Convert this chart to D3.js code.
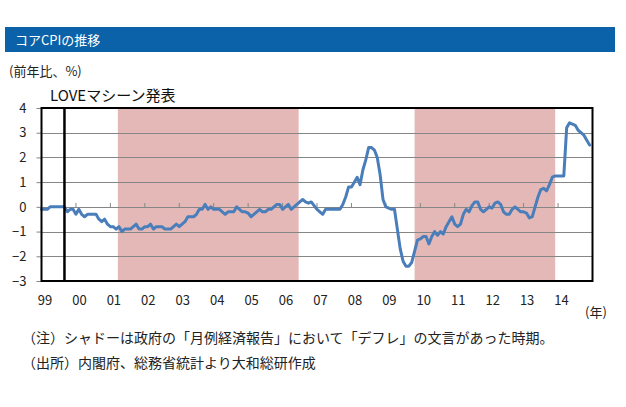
<!DOCTYPE html>
<html><head><meta charset="utf-8">
<script src="https://cdn.jsdelivr.net/npm/d3@7"></script>
<style>
body{margin:0;background:#fff}
text{font-family:"Noto Sans CJK JP","Noto Sans",sans-serif}
</style>
</head><body>
<svg id="chart" width="626" height="407"></svg>
<script>
// ---- data ----
const startYear = 1999;
const coreCPI = [
  // 1999
  -0.1,-0.1,-0.1,0,0,0,0,0,0,-0.2,-0.1,-0.1,
  // 2000
  -0.3,-0.1,-0.3,-0.4,-0.3,-0.3,-0.3,-0.3,-0.5,-0.6,-0.5,-0.7,
  // 2001
  -0.8,-0.8,-0.9,-0.8,-1.0,-0.9,-0.9,-0.9,-0.8,-0.7,-0.9,-0.9,
  // 2002
  -0.8,-0.8,-0.7,-0.9,-0.8,-0.8,-0.8,-0.9,-0.9,-0.9,-0.8,-0.7,
  // 2003
  -0.8,-0.7,-0.6,-0.4,-0.4,-0.4,-0.3,-0.1,-0.1,0.1,-0.1,0,
  // 2004
  -0.1,-0.1,-0.1,-0.2,-0.3,-0.2,-0.2,-0.2,0,-0.1,-0.2,-0.2,
  // 2005
  -0.25,-0.4,-0.3,-0.2,-0.1,-0.2,-0.2,-0.1,-0.1,0,0.1,0.1,
  // 2006
  -0.1,0,0.1,-0.1,0,0.1,0.2,0.3,0.2,0.15,0.2,0.05,
  // 2007
  -0.1,-0.2,-0.3,-0.1,-0.1,-0.1,-0.1,-0.1,-0.1,0.1,0.4,0.8,
  // 2008
  0.8,1.0,1.2,0.9,1.5,1.9,2.4,2.4,2.3,2.0,1.3,0.3,
  // 2009
  0.0,-0.05,-0.1,-0.1,-0.9,-1.7,-2.2,-2.4,-2.4,-2.25,-1.8,-1.35,
  // 2010
  -1.3,-1.2,-1.2,-1.5,-1.2,-1.0,-1.15,-1.0,-1.1,-0.8,-0.6,-0.4,
  // 2011
  -0.7,-0.8,-0.7,-0.3,-0.1,-0.2,0.05,0.2,0.2,-0.1,-0.2,-0.1,
  // 2012
  0,-0.05,0.15,0.2,0.1,-0.2,-0.3,-0.3,-0.1,0,-0.1,-0.2,
  // 2013
  -0.2,-0.25,-0.45,-0.4,0.0,0.4,0.7,0.75,0.65,0.9,1.2,1.25,
  // 2014
  1.25,1.25,1.25,3.2,3.4,3.35,3.3,3.1,3.0,2.9,2.7,2.5
];
const yearLabels = ["99","00","01","02","03","04","05","06","07","08","09","10","11","12","13","14"];
const yTicks = [-3,-2,-1,0,1,2,3,4];
const deflationPeriods = [
  {from:[2001,3], to:[2006,6]},
  {from:[2009,11], to:[2013,12]}
];
const eventDate = [1999,9];
const eventLabel = "LOVEマシーン発表";
const titleText = "コアCPIの推移";
const unitText = "(前年比、%)";
const xUnitText = "(年)";
const notes = [
  "（注）シャドーは政府の「月例経済報告」において「デフレ」の文言があった時期。",
  "（出所）内閣府、総務省統計より大和総研作成"
];

// ---- layout ----
const svg = d3.select("#chart");
const L = 41.5, R = 592.5, T = 108, B = 281;
const mIdx = (y,m) => (y - startYear)*12 + (m - 1);
const x = d3.scaleLinear().domain([0, 192]).range([L, R]);
const y = d3.scaleLinear().domain([-3, 4]).range([B, T]);

// title bar
svg.append("rect").attr("x",5).attr("y",27).attr("width",610).attr("height",25).attr("fill","#0B62A8");
svg.append("text").attr("x",15).attr("y",44.5).attr("fill","#fff").attr("font-size",13).text(titleText);
svg.append("text").attr("x",9).attr("y",76).attr("fill","#222").attr("font-size",13).text(unitText);

// shading (month-midpoint based edges)
svg.append("g").selectAll("rect").data(deflationPeriods).join("rect")
  .attr("x", (d,i) => x(mIdx(...d.from) + (i === 0 ? 0.6 : 0)))
  .attr("width", (d,i) => x(mIdx(...d.to) + (i === 0 ? 0.6 : 0)) - x(mIdx(...d.from) + (i === 0 ? 0.6 : 0)))
  .attr("y", T).attr("height", B - T)
  .attr("fill", "#E5B8B8");

// grid
svg.append("g").selectAll("line").data(yTicks.filter(v => v > -3 && v < 4)).join("line")
  .attr("x1", L).attr("x2", R)
  .attr("y1", d => Math.round(y(d)) + 0.5).attr("y2", d => Math.round(y(d)) + 0.5)
  .attr("stroke", "#868686").attr("stroke-width", 1);

// year ticks on zero line
svg.append("g").selectAll("line").data(yearLabels).join("line")
  .attr("x1", (d,i) => x(i*12)).attr("x2", (d,i) => x(i*12))
  .attr("y1", Math.round(y(0)) + 0.5).attr("y2", Math.round(y(0)) - 4)
  .attr("stroke", "#868686");

// y axis
const yAxis = d3.axisLeft(y).tickValues(yTicks).tickSize(5).tickPadding(10).tickFormat(d3.format("d"));
const ya = svg.append("g").attr("transform", `translate(${L},0)`).call(yAxis);
ya.select(".domain").remove();
ya.selectAll(".tick line").attr("stroke", "#868686");
ya.selectAll(".tick text").attr("font-size", 13).attr("fill", "#222")
  .attr("font-family", "'Noto Sans','Noto Sans CJK JP',sans-serif");

// x labels
const xAxis = d3.axisBottom(x).tickValues(d3.range(0, 192, 12)).tickSize(0).tickPadding(0)
  .tickFormat((d,i) => yearLabels[i]);
const xa = svg.append("g").attr("transform", `translate(3,${B + 15})`).call(xAxis);
xa.select(".domain").remove();
xa.selectAll(".tick text").attr("font-size", 13).attr("fill", "#222")
  .attr("font-family", "'Noto Sans','Noto Sans CJK JP',sans-serif");
svg.append("text").attr("x",596).attr("y",317).attr("text-anchor","middle").attr("font-size",13).attr("fill","#222").text(xUnitText);

// line
const line = d3.line().x((d,i) => x(i)).y(d => y(d));
svg.append("path").datum(coreCPI).attr("d", line)
  .attr("fill","none").attr("stroke","#4A7EBB").attr("stroke-width",3)
  .attr("stroke-linejoin","round").attr("stroke-linecap","round");

// frame
svg.append("rect").attr("x", L).attr("y", T).attr("width", R - L).attr("height", B - T)
  .attr("fill","none").attr("stroke","#000").attr("stroke-width",2);

// event line
const ex = x(mIdx(...eventDate));
svg.append("line").attr("x1", ex).attr("x2", ex).attr("y1", T).attr("y2", B)
  .attr("stroke","#000").attr("stroke-width",2.5);
svg.append("text").attr("x", 50).attr("y", 101).attr("font-size", 15).attr("fill","#111").text(eventLabel);

// notes
svg.append("g").selectAll("text").data(notes).join("text")
  .attr("x", 22).attr("y", (d,i) => 343 + i*25)
  .attr("font-size", 14).attr("fill","#222").text(d => d);
</script>
</body></html>
